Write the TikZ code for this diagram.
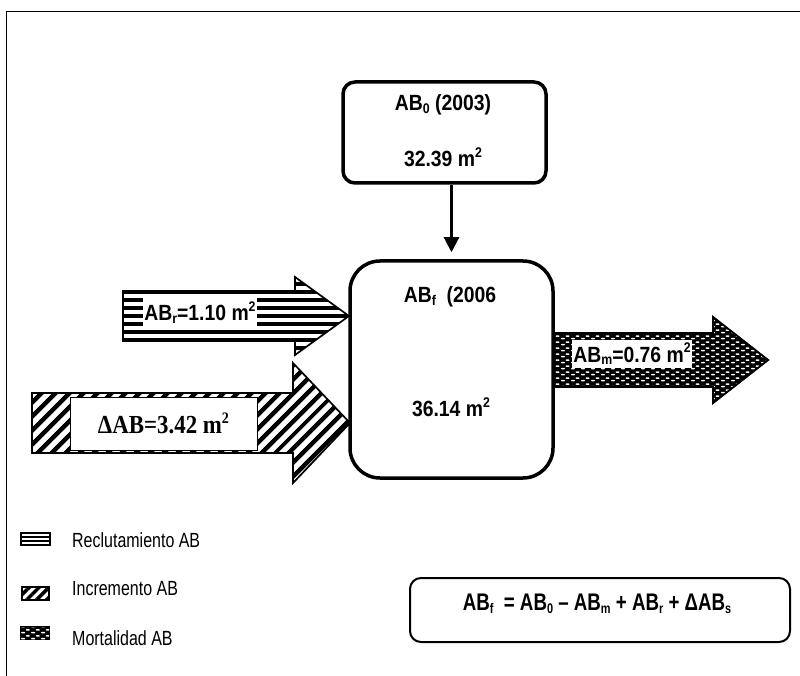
\documentclass[tikz,border=0pt]{standalone}
\usepackage{fontspec}
\setmainfont{Liberation Sans}
\newfontfamily\nsans[FakeStretch=0.88]{Liberation Sans}
\newfontfamily\fsans[FakeStretch=0.78]{Liberation Sans}
\newfontfamily\timesf[FakeStretch=0.88]{Liberation Serif}
\usetikzlibrary{patterns.meta,arrows.meta}

\tikzdeclarepattern{
  name=brickdash,
  type=uncolored,
  bottom left={(0pt,0pt)},
  top right={(10pt,6pt)},
  tile size={(10pt,6pt)},
  code={
    \draw[line width=1.8pt, line cap=round] (2pt,1.5pt) -- (4.6pt,1.5pt);
    \draw[line width=1.8pt, line cap=round] (7pt,4.5pt) -- (9.6pt,4.5pt);
  }
}

\newcommand\sbs[1]{\raisebox{-0.25ex}{\fontsize{14}{14}\selectfont #1}}
\newcommand\sps[1]{\raisebox{0.8ex}{\fontsize{14}{14}\selectfont #1}}

\begin{document}
\begin{tikzpicture}[x=1pt,y=-1pt,
  frame/.style={line width=1.8pt},
  roundbox/.style={draw, line width=3.5pt, fill=white, inner sep=0pt},
  arrowshape/.style={draw, line width=1.7pt},
  recfill/.style={pattern={Lines[angle=0,distance=8pt,line width=4.2pt]}},
  incfill/.style={pattern={Lines[angle=45,distance=10.5pt,line width=4.8pt]}},
  mortfill/.style={fill=black, postaction={pattern=brickdash, pattern color=white}},
  boldtxt/.style={font=\nsans\fontsize{22}{24}\selectfont\bfseries, inner sep=0pt},
  lbl/.style={fill=white, inner sep=0pt, font=\nsans\fontsize{22}{24}\selectfont\bfseries},
  legtxt/.style={anchor=west, inner sep=0pt, font=\fsans\fontsize{20.5}{22}\selectfont},
  legicon/.style={draw, line width=1.4pt}
]
\useasboundingbox (0,0) rectangle (800,676);

% outer frame (left and top edges visible)
\draw[frame] (6.5,680) -- (6.5,11.5) -- (805,11.5);

% big arrows
\path[arrowshape, recfill] (123,291) -- (295,291) -- (295,277) -- (349,316) -- (295,355) -- (295,341) -- (123,341) -- cycle;
\path[arrowshape, incfill] (32,393) -- (293,393) -- (293,363) -- (350,423) -- (293,483) -- (293,453) -- (32,453) -- cycle;
\path[arrowshape, mortfill] (553,333) -- (713,333) -- (713,317) -- (768,360) -- (713,403) -- (713,387) -- (553,387) -- cycle;
\draw[line width=1.7pt] (553,333) -- (713,333) -- (713,317) -- (768,360) -- (713,403) -- (713,387) -- (553,387);

% arrow labels
\node[lbl, minimum width=114pt, minimum height=29pt] (reclbl) at (200,312.5) {AB\sbs{r}=1.10 m\sps{2}};
\node[lbl, draw, line width=1pt, minimum width=187pt, minimum height=53pt, font=\timesf\fontsize{26}{28}\selectfont\bfseries] (inclbl) at (163.5,423.5) {ΔAB=3.42 m\raisebox{0.8ex}{\fontsize{16}{16}\selectfont 2}};
\node[lbl, minimum width=120pt, minimum height=28pt] (mortlbl) at (632,354) {AB\sbs{m}=0.76 m\sps{2}};

% boxes
\node[roundbox, rounded corners=12pt, minimum width=203pt, minimum height=101pt] (ab0) at (444.5,132.5) {};
\node[roundbox, rounded corners=30pt, minimum width=203pt, minimum height=217pt] (abf) at (451.5,369.5) {};

\node[boldtxt] (ab0t) at (443,105) {AB\sbs{0} (2003)};
\node[boldtxt] (ab0v) at (443,157) {32.39 m\sps{2}};
\node[boldtxt] (abft) at (450,297) {AB\sbs{f}\ \ (2006};
\node[boldtxt] (abfv) at (451,407) {36.14 m\sps{2}};

\draw[line width=2.2pt, -{Triangle[length=15pt,width=15pt]}, shorten >=7pt] (abf.north |- ab0.south) -- (abf.north);

% legend
\draw[legicon, fill=white] (21,533) rectangle (50,545);
\draw[line width=1.3pt] (21,537) -- (50,537) (21,541) -- (50,541);
\node[legtxt] (legrec) at (72,540) {Reclutamiento AB};
\draw[legicon, pattern={Lines[angle=45,distance=7pt,line width=3.5pt]}] (22,587) rectangle (49,600);
\node[legtxt] (leginc) at (72,589) {Incremento AB};
\draw[legicon, mortfill] (21,627) rectangle (49,639);
\node[legtxt] (legmort) at (72,638) {Mortalidad AB};

% formula box
\node[draw, line width=2pt, rounded corners=11pt, minimum width=380pt, minimum height=64pt] (formbox) at (600,610) {};
\node[inner sep=0pt, font=\fsans\fontsize{24}{26}\selectfont\bfseries] (formula) at (597,604) {AB\sbs{f}\ \ = AB\sbs{0} – AB\sbs{m} + AB\sbs{r} + ΔAB\sbs{s}};
\end{tikzpicture}
\end{document}
